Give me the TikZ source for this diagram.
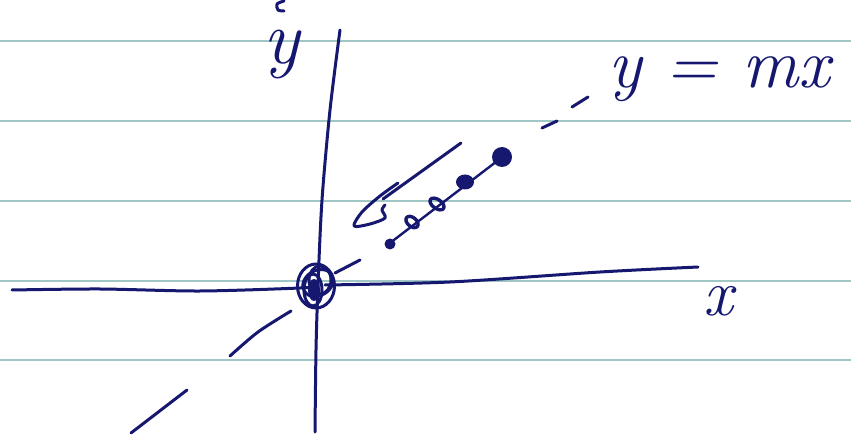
\documentclass[tikz,border=0pt]{standalone}
\usepackage{tikz}
\usetikzlibrary{positioning}
\definecolor{ink}{RGB}{22,24,112}
\definecolor{rule}{RGB}{160,198,198}
\begin{document}
\begin{tikzpicture}[
  x=1pt, y=-1pt,
  ruling/.style={draw=rule, line width=2.6pt},
  pen/.style={draw=ink, line width=3pt, line cap=round, line join=round},
  thinpen/.style={draw=ink, line width=2.4pt, line cap=round, line join=round},
  dot/.style={fill=ink},
  hand/.style={text=ink, inner sep=0pt}
]
  \useasboundingbox (0,0) rectangle (851,438);
  \fill[white] (0,0) rectangle (851,438);

  % ruled paper
  \foreach \ry in {41,121,201,281,360}
    \draw[ruling] (0,\ry) -- (851,\ry);

  % axes
  \draw[pen] plot[smooth] coordinates {(12,290) (100,289) (200,291) (300,288) (318,286)};
  \draw[pen] plot[smooth] coordinates {(325,285) (450,282) (600,272) (698,267)};
  \draw[pen] plot[smooth] coordinates {(340,30) (330,110) (322,200) (318,285) (316,350) (315,432)};

  % scribbled origin
  \draw[pen] (316,286) ellipse [x radius=18.5, y radius=22];
  \draw[pen, rotate around={30:(318,283)}] (318,283) ellipse [x radius=16, y radius=12.5];
  \draw[pen] (320,280) ellipse [x radius=11, y radius=14];
  \draw[pen] (313,290) ellipse [x radius=9, y radius=16];
  \fill[ink] (314,290) ellipse [x radius=6, y radius=11];

  % the line y = mx, dashed by hand
  \draw[pen] (131,433) -- (187,390);
  \draw[pen] plot[smooth] coordinates {(230,356) (258,332) (291,311)};
  \draw[pen] (335,273) -- (360,260);
  \draw[pen] (542,128) -- (557,121);
  \draw[pen] (572,107) -- (588,97);

  % points sliding along the line
  \draw[thinpen] (390,243) -- (505,155);
  \fill[dot] (390,244) circle (5.5);
  \draw[pen, line width=3.4pt, rotate around={-40:(412,222)}] (412,222) ellipse [x radius=7, y radius=4.5];
  \draw[pen, line width=3.4pt, rotate around={-35:(437,204)}] (437,204) ellipse [x radius=8, y radius=4.5];
  \fill[dot] (465,182) ellipse [x radius=9, y radius=7.5];
  \fill[dot] (502,157) circle (10);

  % hand-drawn arrow towards the origin
  \draw[pen] (461,143) -- (383,199);
  \draw[pen] plot[smooth] coordinates {(398,183) (380,196) (362,212) (354,226) (370,224) (385,218) (382,210) (385,205)};

  % stray mark at the top edge
  \draw[pen] plot[smooth] coordinates {(284,1) (277,4) (278,10) (284,11)};

  % labels
  \node[hand, anchor=base west, font=\fontsize{76}{76}\selectfont\itshape] (ylab) at (263,64) {y};
  \node[hand, anchor=base west, font=\fontsize{66}{66}\selectfont\itshape] (xlab) at (703,316) {x};
  \node[hand, anchor=base west, font=\fontsize{70}{70}\selectfont\itshape] (eqn) at (608,88) {y = mx};
\end{tikzpicture}
\end{document}
